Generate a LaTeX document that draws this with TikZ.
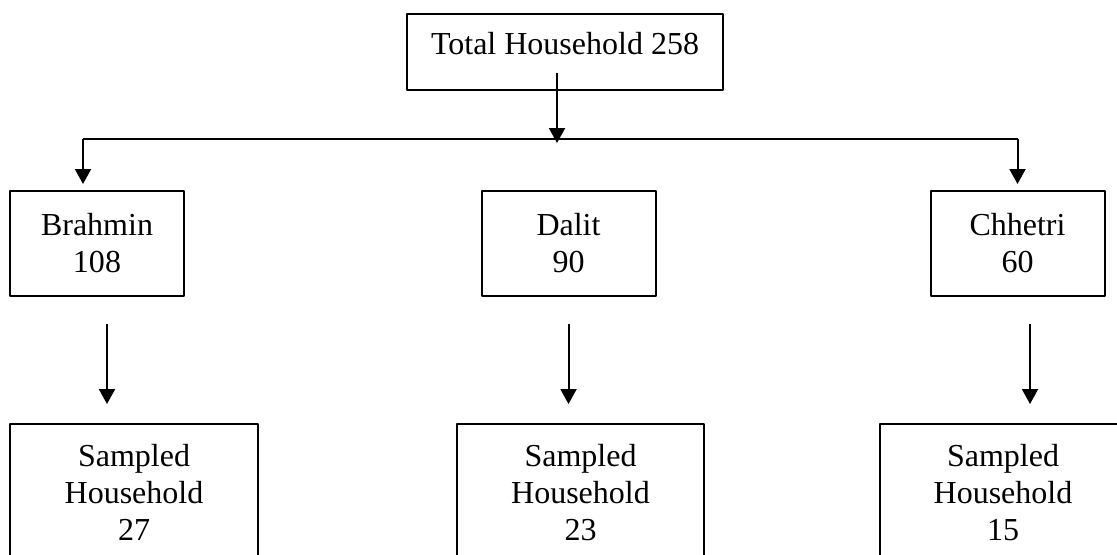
\documentclass[tikz,border=0pt]{standalone}
\usepackage{fontspec}
\setmainfont{Liberation Serif}
\usetikzlibrary{arrows.meta}
\begin{document}
\begin{tikzpicture}[x=0.4pt, y=-0.4pt, font=\fontsize{12.8}{14.8}\selectfont, line join=round, >={Triangle[length=6pt,width=6.4pt]},
	box/.style={draw, line width=0.8pt, inner sep=0pt, align=center},
	level/.style={box, minimum width=69.6pt, minimum height=42pt},
	sample/.style={box, minimum width=98.8pt, minimum height=54.8pt},
	arr/.style={->, line width=0.8pt}]
	\useasboundingbox (0,0) rectangle (1117,554);
	\clip (0,0) rectangle (1117,554);
	% boxes
	\node (top) at (565,52) [box, minimum width=126.4pt, minimum height=30.4pt, text depth=6.5pt] {Total Household 258};
	\node (brahmin) at (97,243.5) [level] {Brahmin\\108};
	\node (dalit) at (568.5,243.5) [level] {Dalit\\90};
	\node (chhetri) at (1017.5,243.5) [level] {Chhetri\\60};
	\node (bsamp) at (134,492.5) [sample] {Sampled\\Household\\27};
	\node (dsamp) at (580.5,492.5) [sample] {Sampled\\Household\\23};
	\node (csamp) at (1003,492.5) [sample] {Sampled\\Household\\15};
	% split line
	\coordinate (hub) at (557,138.5);
	\coordinate (lft) at (83,138.5);
	\coordinate (rgt) at (1017.5,138.5);
	\draw[arr] ([yshift=7.2pt]top.south -| hub) -- ([yshift=-1.8pt]hub);
	\draw[line width=0.8pt] (lft) -- (rgt);
	\draw[arr] (lft) -- ([yshift=2.4pt]lft |- brahmin.north);
	\draw[arr] (rgt) -- ([yshift=2.4pt]rgt |- chhetri.north);
	% samples
	\draw[arr] ([xshift=4pt,yshift=-10.8pt]brahmin.south) -- ([xshift=4pt,yshift=7.6pt]brahmin.south |- bsamp.north);
	\draw[arr] ([yshift=-10.8pt]dalit.south) -- ([yshift=7.6pt]dalit.south |- dsamp.north);
	\draw[arr] ([xshift=5pt,yshift=-10.8pt]chhetri.south) -- ([xshift=5pt,yshift=7.6pt]chhetri.south |- csamp.north);
\end{tikzpicture}
\end{document}
